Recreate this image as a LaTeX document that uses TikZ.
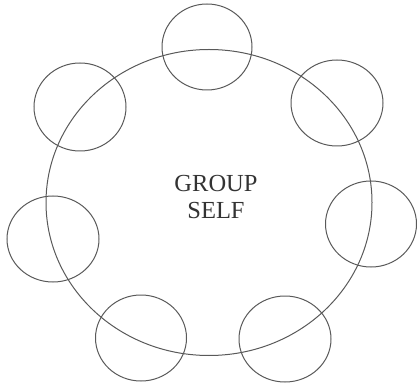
\documentclass[tikz,border=0pt]{standalone}
\usepackage{fontspec}
\setmainfont{Liberation Serif}
\begin{document}
\begin{tikzpicture}[x=1pt,y=-1pt,
  ring/.style={draw=black!65,line width=1pt},
  label/.style={font=\fontsize{24.5}{26.5}\selectfont,text=black!80,align=center}]
\useasboundingbox (0,0) rectangle (417,387);
\draw[ring] (209,202.5) ellipse [x radius=163, y radius=153];
\draw[ring] (207,47) ellipse [x radius=45, y radius=43];
\draw[ring] (80,107) ellipse [x radius=46, y radius=44];
\draw[ring] (337,103) ellipse [x radius=46, y radius=43];
\draw[ring] (371,224) ellipse [x radius=45.5, y radius=43];
\draw[ring] (53,239) ellipse [x radius=46, y radius=43];
\draw[ring] (141,338) ellipse [x radius=45.5, y radius=43];
\draw[ring] (285,339) ellipse [x radius=46, y radius=43];
\node[label] (t) at (216,197) {GROUP\\SELF};
\end{tikzpicture}
\end{document}
